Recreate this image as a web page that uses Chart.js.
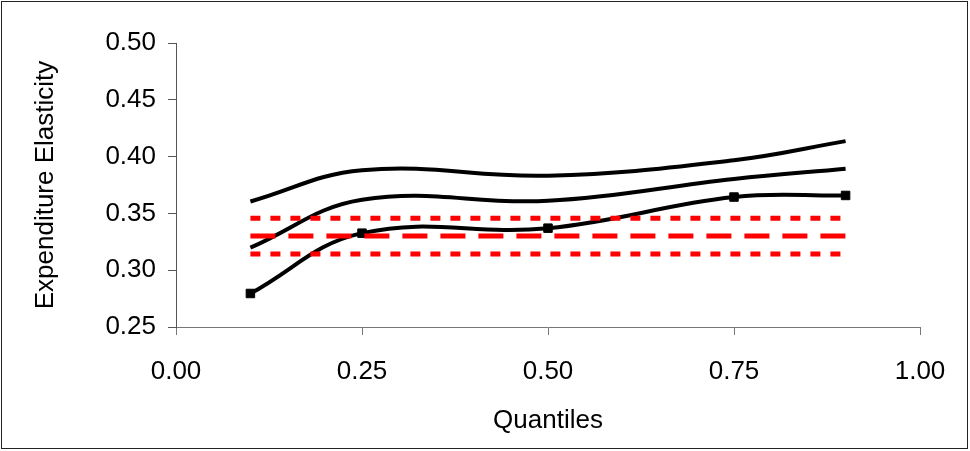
<!DOCTYPE html>
<html>
<head>
<meta charset="utf-8">
<script src="https://cdn.jsdelivr.net/npm/chart.js@4/dist/chart.umd.min.js"></script>
<style>
  html, body { margin: 0; padding: 0; background: #fff; }
  #wrap { width: 970px; height: 451px; }
</style>
</head>
<body>
<div id="wrap"><canvas id="elast" width="970" height="451"></canvas></div>
<script>
// quantiles at which the estimates were made
var quantiles = [0.1, 0.25, 0.5, 0.75, 0.9];
// quantile regression estimate and its band
var estimate = [0.2795, 0.3326, 0.337, 0.3644, 0.3658];
var upperBand = [0.3605, 0.388, 0.3832, 0.3968, 0.4136];
var lowerBand = [0.3199, 0.362, 0.3611, 0.3803, 0.3894];
// OLS estimate and its confidence bounds (flat lines)
var olsSpan = [0.1, 0.9];
var olsMid = 0.3302;
var olsHigh = 0.3458;
var olsLow = 0.3143;
// tick labels
var xTicks = [0, 0.25, 0.5, 0.75, 1];
var yTicks = [0.25, 0.3, 0.35, 0.4, 0.45, 0.5];

function pts(xs, ys) {
    return xs.map(function(x, k) { return { x: x, y: ys[k] }; });
}
function flat(v) {
    return olsSpan.map(function(x) { return { x: x, y: v }; });
}

var frame = {
    id: 'frame',
    afterDraw: function(chart) {
        var c = chart.ctx;
        c.save();
        c.strokeStyle = '#222';
        c.lineWidth = 1;
        c.strokeRect(1.5, 1.5, 966, 447);
        c.restore();
    }
};

var ctx = document.getElementById('elast').getContext('2d');
var font = { family: "'Liberation Sans', Arial, sans-serif", size: 26 };

var elastChart = new Chart(ctx, {
    type: 'line',
    data: {
        datasets: [
            { data: flat(olsHigh), borderColor: '#ff0000', borderWidth: 5, borderDash: [10, 10], pointRadius: 0, tension: 0 },
            { data: flat(olsMid), borderColor: '#ff0000', borderWidth: 5, borderDash: [25, 13], pointRadius: 0, tension: 0 },
            { data: flat(olsLow), borderColor: '#ff0000', borderWidth: 5, borderDash: [10, 10], pointRadius: 0, tension: 0 },
            { data: pts(quantiles, upperBand), borderColor: '#000', borderWidth: 4, pointRadius: 0, tension: 0.4 },
            { data: pts(quantiles, lowerBand), borderColor: '#000', borderWidth: 4, pointRadius: 0, tension: 0.4 },
            { data: pts(quantiles, estimate), borderColor: '#000', borderWidth: 4, tension: 0.4,
              pointStyle: 'rect', pointRadius: 6, pointBackgroundColor: '#000', pointBorderColor: '#000', pointBorderWidth: 1 }
        ]
    },
    options: {
        responsive: false,
        animation: false,
        layout: { padding: { left: 0, right: 50, top: 43, bottom: 0 } },
        plugins: {
            legend: { display: false },
            tooltip: { enabled: false }
        },
        scales: {
            x: {
                type: 'linear',
                min: 0,
                max: 1,
                afterBuildTicks: function(s) { s.ticks = xTicks.map(function(v) { return { value: v }; }); },
                afterFit: function(s) { s.height = 124; },
                ticks: { color: '#000', font: font, padding: 21, maxRotation: 0,
                         callback: function(v) { return v.toFixed(2); } },
                grid: { drawOnChartArea: false, color: '#777', tickLength: 8 },
                border: { color: '#777', width: 1 },
                title: { display: true, text: 'Quantiles', color: '#000', font: font, padding: { top: 0, bottom: 15 } }
            },
            y: {
                min: 0.25,
                max: 0.5,
                afterBuildTicks: function(s) { s.ticks = yTicks.map(function(v) { return { value: v }; }); },
                afterFit: function(s) { s.width = 176; },
                ticks: { color: '#000', font: font, padding: 12,
                         callback: function(v) { return v.toFixed(2); } },
                grid: { drawOnChartArea: false, color: '#555', tickLength: 8 },
                border: { color: '#555', width: 1 },
                title: { display: true, text: 'Expenditure Elasticity', color: '#000', font: font, padding: { top: 30, bottom: 0 } }
            }
        }
    },
    plugins: [frame]
});
</script>
</body>
</html>
